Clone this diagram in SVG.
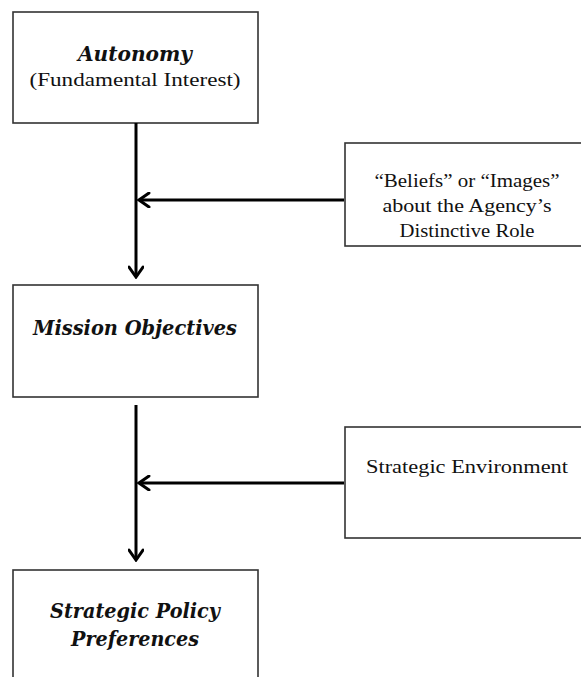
<svg xmlns="http://www.w3.org/2000/svg" width="581" height="677" viewBox="0 0 581 677">
<defs>
<style>
.box{fill:#fff;stroke:#333;stroke-width:1.6}
.t{fill:#111;text-anchor:middle}
.bi{font-family:"DejaVu Serif","Liberation Serif",serif;font-weight:bold;font-style:italic;font-size:19.5px}
.r{font-family:"Liberation Serif","DejaVu Serif",serif;font-size:19px}
.c{stroke:#000;stroke-width:3;fill:none}
</style>
<marker id="ah" viewBox="0 0 14 16" refX="12" refY="8" markerWidth="14" markerHeight="16" markerUnits="userSpaceOnUse" orient="auto">
<path d="M2,1 L12,8 L2,15" fill="none" stroke="#000" stroke-width="3" stroke-linecap="round" stroke-linejoin="miter"/>
</marker>
</defs>
<rect width="581" height="677" fill="#fff"/>
<g id="autonomy">
<rect class="box" x="13" y="12" width="245" height="111"/>
<text class="t bi" x="135" y="61" textLength="114" lengthAdjust="spacingAndGlyphs">Autonomy</text>
<text class="t r" x="135" y="86" textLength="211" lengthAdjust="spacingAndGlyphs">(Fundamental Interest)</text>
</g>
<g id="beliefs">
<rect class="box" x="345" y="143" width="260" height="103"/>
<text class="t r" x="467" y="187" textLength="185" lengthAdjust="spacingAndGlyphs">“Beliefs” or “Images”</text>
<text class="t r" x="467" y="212" textLength="169" lengthAdjust="spacingAndGlyphs">about the Agency’s</text>
<text class="t r" x="467" y="237" textLength="135" lengthAdjust="spacingAndGlyphs">Distinctive Role</text>
</g>
<g id="mission">
<rect class="box" x="13" y="285" width="245" height="112"/>
<text class="t bi" x="135" y="335" textLength="204" lengthAdjust="spacingAndGlyphs">Mission Objectives</text>
</g>
<g id="environment">
<rect class="box" x="345" y="427" width="260" height="111"/>
<text class="t r" x="467" y="473" textLength="202" lengthAdjust="spacingAndGlyphs">Strategic Environment</text>
</g>
<g id="preferences">
<rect class="box" x="13" y="570" width="245" height="120"/>
<text class="t bi" x="135" y="618" textLength="170" lengthAdjust="spacingAndGlyphs">Strategic Policy</text>
<text class="t bi" x="135" y="646" textLength="128" lengthAdjust="spacingAndGlyphs">Preferences</text>
</g>
<g id="connectors">
<line class="c" x1="136" y1="123" x2="136" y2="277" marker-end="url(#ah)"/>
<line class="c" x1="344" y1="200" x2="139" y2="200" marker-end="url(#ah)"/>
<line class="c" x1="136" y1="405" x2="136" y2="560" marker-end="url(#ah)"/>
<line class="c" x1="344" y1="483" x2="139" y2="483" marker-end="url(#ah)"/>
</g>
</svg>
